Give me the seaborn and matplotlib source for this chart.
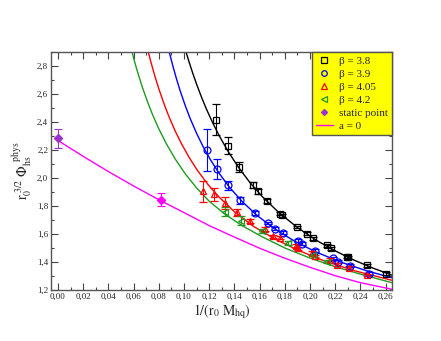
import matplotlib
matplotlib.use("Agg")
import matplotlib.pyplot as plt
from matplotlib.lines import Line2D
from matplotlib.ticker import MultipleLocator, FuncFormatter
import seaborn as sns
import pandas as pd

sns.set_style("ticks")
plt.rcParams["font.family"] = ["Liberation Serif", "DejaVu Serif"]
plt.rcParams["mathtext.fontset"] = "stix"

# data points
b38_x = [0.1254, 0.1346, 0.1439, 0.1545, 0.1584, 0.1656, 0.1761, 0.1775, 0.1894, 0.1973,
         0.2026, 0.2132, 0.2166, 0.2296, 0.2304, 0.2449, 0.2603]
b38_y = [2.416, 2.231, 2.077, 1.951, 1.904, 1.835, 1.745, 1.733, 1.650, 1.603,
         1.568, 1.520, 1.497, 1.437, 1.433, 1.375, 1.315]
b38_e = [0.11, 0.06, 0.035, 0.02, 0.015, 0.015, 0.012, 0.012, 0.01, 0.01,
         0.01, 0.01, 0.01, 0.01, 0.01, 0.01, 0.01]

b39_x = [0.1180, 0.1259, 0.1352, 0.1444, 0.1563, 0.1664, 0.1722, 0.1788, 0.1907, 0.1933,
         0.2039, 0.2179, 0.2224, 0.2317, 0.2470]
b39_y = [2.200, 2.065, 1.947, 1.840, 1.750, 1.679, 1.639, 1.610, 1.551, 1.530,
         1.482, 1.425, 1.403, 1.373, 1.316]
b39_e = [0.15, 0.07, 0.03, 0.025, 0.012, 0.01, 0.01, 0.01, 0.01, 0.01,
         0.01, 0.01, 0.01, 0.01, 0.01]

b405_x = [0.1150, 0.1235, 0.1325, 0.1420, 0.1525, 0.1640, 0.1705, 0.1762, 0.1890, 0.1904,
          0.2015, 0.2042, 0.2158, 0.2210, 0.2308, 0.2449]
b405_y = [1.906, 1.883, 1.822, 1.755, 1.695, 1.635, 1.584, 1.573, 1.514, 1.497,
          1.463, 1.443, 1.415, 1.382, 1.360, 1.307]
b405_e = [0.075, 0.045, 0.04, 0.025, 0.015, 0.015, 0.012, 0.012, 0.012, 0.01,
          0.012, 0.01, 0.01, 0.01, 0.01, 0.01]

b42_x = [0.1325, 0.1450, 0.1616, 0.1827, 0.2021, 0.2132]
b42_y = [1.760, 1.695, 1.620, 1.535, 1.450, 1.401]
b42_e = [0.035, 0.03, 0.015, 0.012, 0.01, 0.01]

static_x = [0.0]
static_y = [2.283]
static_e = [0.07]

cont_x = [0.0817]
cont_y = [1.845]
cont_e = [0.048]

# fit curves
fit38_x = [0.1016, 0.104, 0.107, 0.110, 0.114, 0.118, 0.123, 0.128, 0.135, 0.143,
           0.152, 0.162, 0.175, 0.190, 0.205, 0.220, 0.235, 0.250, 0.265]
fit38_y = [2.901, 2.830, 2.747, 2.670, 2.575, 2.488, 2.390, 2.301, 2.190, 2.079,
           1.971, 1.868, 1.755, 1.646, 1.555, 1.479, 1.413, 1.356, 1.306]

fit39_x = [0.0883, 0.091, 0.094, 0.097, 0.101, 0.105, 0.110, 0.115, 0.121, 0.128,
           0.136, 0.146, 0.158, 0.172, 0.188, 0.205, 0.225, 0.245, 0.265]
fit39_y = [2.900, 2.806, 2.710, 2.622, 2.517, 2.423, 2.319, 2.227, 2.130, 2.032,
           1.935, 1.833, 1.732, 1.636, 1.547, 1.470, 1.397, 1.337, 1.287]

fit405_x = [0.0717, 0.074, 0.077, 0.080, 0.084, 0.088, 0.093, 0.098, 0.104, 0.111,
            0.119, 0.128, 0.140, 0.155, 0.172, 0.190, 0.210, 0.235, 0.265]
fit405_y = [2.900, 2.820, 2.725, 2.638, 2.534, 2.440, 2.336, 2.245, 2.148, 2.050,
            1.954, 1.862, 1.759, 1.655, 1.565, 1.486, 1.412, 1.338, 1.269]

fit42_x = [0.0588, 0.061, 0.064, 0.067, 0.071, 0.075, 0.080, 0.086, 0.093, 0.101,
           0.110, 0.120, 0.132, 0.146, 0.162, 0.180, 0.200, 0.220, 0.242, 0.265]
fit42_y = [2.900, 2.825, 2.733, 2.648, 2.546, 2.454, 2.352, 2.245, 2.136, 2.030,
           1.929, 1.834, 1.745, 1.660, 1.580, 1.500, 1.428, 1.366, 1.308, 1.252]

fit0_x = [0.0, 0.02, 0.04, 0.06, 0.08, 0.10, 0.12, 0.14, 0.16, 0.18, 0.20, 0.22, 0.24, 0.265]
fit0_y = [2.268, 2.155, 2.046, 1.943, 1.845, 1.753, 1.660, 1.578, 1.498, 1.427,
          1.362, 1.302, 1.252, 1.205]

fig = plt.figure(figsize=(4.41, 3.41), dpi=100)
ax = fig.add_axes([0.1156, 0.1496, 0.7733, 0.6979])

curves = [
    (fit38_x, fit38_y, "black"),
    (fit39_x, fit39_y, "blue"),
    (fit405_x, fit405_y, "red"),
    (fit42_x, fit42_y, "#1f9a1f"),
    (fit0_x, fit0_y, "magenta"),
]
for cx, cy, col in curves:
    df = pd.DataFrame({"x": cx, "y": cy})
    sns.lineplot(data=df, x="x", y="y", color=col, lw=1.0, estimator=None,
                 sort=True, ax=ax)

sets = [
    (b38_x, b38_y, b38_e, "s", "black"),
    (b39_x, b39_y, b39_e, "o", "blue"),
    (b405_x, b405_y, b405_e, "^", "red"),
    (b42_x, b42_y, b42_e, "<", "#1f9a1f"),
]
for px, py, pe, mk, col in sets:
    ax.errorbar(px, py, yerr=pe, fmt=mk, color=col, mfc="none", mec=col,
                ms=5, mew=0.9, elinewidth=0.8, capsize=3, capthick=0.8, zorder=3)

ax.errorbar(static_x, static_y, yerr=static_e, fmt="D", color="#9933cc",
            ms=4, elinewidth=0.8, capsize=3, capthick=0.8, zorder=4)
ax.errorbar(cont_x, cont_y, yerr=cont_e, fmt="D", color="magenta",
            ms=4.5, elinewidth=0.8, capsize=3, capthick=0.8, zorder=4)

ax.set_xlim(-0.0055, 0.265)
ax.set_ylim(1.2, 2.9)
ax.xaxis.set_major_locator(MultipleLocator(0.02))
ax.xaxis.set_minor_locator(MultipleLocator(0.01))
ax.yaxis.set_major_locator(MultipleLocator(0.2))
ax.yaxis.set_minor_locator(MultipleLocator(0.1))
ax.xaxis.set_major_formatter(FuncFormatter(lambda v, p: f"{v:.2f}".replace(".", ",")))
ax.yaxis.set_major_formatter(FuncFormatter(lambda v, p: f"{v:.1f}".replace(".", ",")))
ax.tick_params(which="both", direction="in", top=True, right=True, labelsize=6.5,
               color="#444444", pad=2)
ax.tick_params(which="major", length=5, width=0.8)
ax.tick_params(which="minor", length=2.5, width=0.8)
for s in ax.spines.values():
    s.set_color("#555555")
    s.set_linewidth(1.0)

ax.set_xlabel(r"$1/(\mathrm{r}_0\ \mathrm{M}_{\mathrm{hq}})$", fontsize=10, labelpad=1)
ax.set_ylabel(r"$\mathrm{r}_0^{\ 3/2}\ \Phi_{\mathrm{hs}}^{\ \ \mathrm{phys}}$", fontsize=10, labelpad=2)

handles = [
    Line2D([], [], ls="none", marker="s", mfc="none", mec="black", ms=4, mew=0.9),
    Line2D([], [], ls="none", marker="o", mfc="none", mec="blue", ms=4, mew=0.9),
    Line2D([], [], ls="none", marker="^", mfc="none", mec="red", ms=4, mew=0.9),
    Line2D([], [], ls="none", marker="<", mfc="none", mec="#1f9a1f", ms=4, mew=0.9),
    Line2D([], [], ls="none", marker="D", color="#9933cc", ms=3),
    Line2D([], [], color="magenta", lw=1.0),
]
labels = ["β = 3.8", "β = 3.9", "β = 4.05", "β = 4.2", "static point", "a = 0"]
leg = ax.legend(handles, labels, loc="upper right", borderaxespad=0, fontsize=8,
                frameon=True, fancybox=False, framealpha=1, facecolor="yellow",
                edgecolor="#555555", handlelength=1.5, handletextpad=0.6,
                labelspacing=0.3, borderpad=0.35)
leg.get_frame().set_linewidth(1.0)

fig.savefig("out.png", dpi=100)
